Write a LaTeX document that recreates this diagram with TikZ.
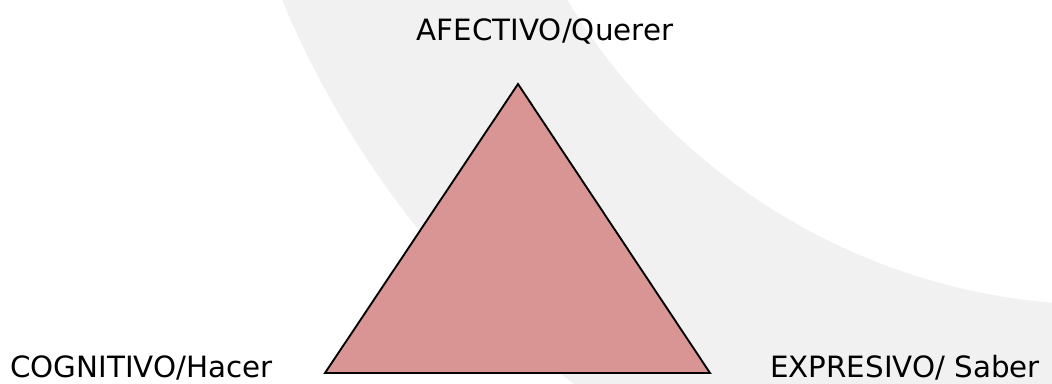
\documentclass[tikz,border=0pt]{standalone}
\usepackage{fontspec}
\setmainfont{DejaVu Sans}
\definecolor{bandgray}{RGB}{242,241,241}
\definecolor{trifill}{RGB}{217,149,148}
\tikzset{
  lbl/.style={font=\fontsize{22}{26}\selectfont, text=black, inner sep=0pt},
  tri/.style={fill=trifill, draw=black, line width=1.4pt, line join=miter},
}
\begin{document}
\begin{tikzpicture}[x=0.75pt, y=-0.75pt]
\useasboundingbox (0,0) rectangle (1052,384);
\fill[white] (0,0) rectangle (1052,384);
\begin{scope}
  \clip (0,0) rectangle (1052,384);
  \fill[bandgray, even odd rule] (1170,-371) circle (721.5pt) (1105,-321) circle (469.5pt);
\end{scope}
\coordinate (apex) at (518,84);
\coordinate (bl) at (325,373);
\coordinate (br) at (710,373);
\draw[tri] (apex) -- (bl) -- (br) -- cycle;
\node[lbl, anchor=base] (afe) at (545,41) {AFECTIVO/Querer};
\node[lbl, anchor=base west] (cog) at (10,377) {COGNITIVO/Hacer};
\node[lbl, anchor=base west] (exp) at (770,377) {EXPRESIVO/ Saber};
\end{tikzpicture}
\end{document}
